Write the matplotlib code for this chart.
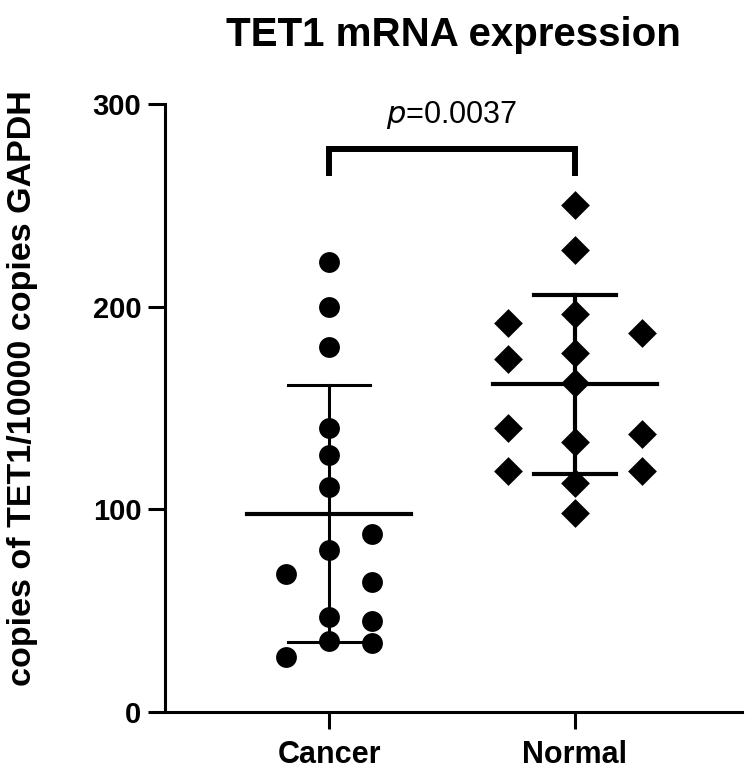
import matplotlib
matplotlib.use("Agg")
import matplotlib.pyplot as plt
import numpy as np

plt.rcParams["font.family"] = ["Liberation Sans", "DejaVu Sans"]

groups = ["Cancer", "Normal"]
cancer = [222, 200, 180, 140, 127, 111, 88, 80, 68, 64, 47, 45, 35, 34, 27]
cancer_col = [0, 0, 0, 0, 0, 0, 1, 0, -1, 1, 0, 1, 0, 1, -1]
normal = [250, 228, 196.5, 177, 162.5, 133, 113, 98, 192, 174, 140, 119, 187, 137, 119]
normal_col = [0, 0, 0, 0, 0, 0, 0, 0, -1, -1, -1, -1, 1, 1, 1]
p_text = "$\\it{p}$=0.0037"
yticks = [0, 100, 200, 300]

fig = plt.figure(figsize=(7.5, 7.72), dpi=100)
ax = fig.add_axes([165 / 750, 60 / 772, 577 / 750, 608 / 772])

specs = [(cancer, cancer_col, "o", 225, 0.173, 2.2), (normal, normal_col, "D", 215, 0.273, 3.0)]
for i, (vals, cols, mk, size, step, lw) in enumerate(specs):
    vals = np.asarray(vals, dtype=float)
    x = i + step * np.asarray(cols)
    ax.scatter(x, vals, marker=mk, s=size, color="black", linewidths=0, zorder=3)
    m = vals.mean()
    sd = vals.std(ddof=1)
    ax.plot([i - 0.333, i + 0.333], [m, m], color="black", lw=3.0, zorder=4)
    ax.plot([i, i], [m - sd, m + sd], color="black", lw=lw, zorder=2)
    for yy in (m - sd, m + sd):
        ax.plot([i - 0.167, i + 0.167], [yy, yy], color="black", lw=lw, zorder=2)

# significance bracket
ax.plot([0, 0, 1, 1], [266, 278, 278, 266], color="black", lw=4.3,
        solid_joinstyle="miter", clip_on=False)
ax.text(0.5, 290.5, p_text, ha="center", va="baseline", fontsize=22)

ax.set_xlim(-0.667, 1.679)
ax.set_ylim(0, 300)
ax.set_xticks([0, 1])
ax.set_xticklabels(groups, fontsize=22, fontweight="bold")
ax.set_yticks(yticks)
ax.set_yticklabels([str(t) for t in yticks], fontsize=21, fontweight="bold")
ax.tick_params(axis="both", length=12, width=2.2, direction="out")
ax.tick_params(axis="x", pad=8)
ax.tick_params(axis="y", pad=5)
for side in ("top", "right"):
    ax.spines[side].set_visible(False)
for side in ("left", "bottom"):
    ax.spines[side].set_linewidth(2.2)

ax.set_ylabel("copies of TET1/10000 copies GAPDH", fontsize=24.5, fontweight="bold")
ax.yaxis.set_label_coords(-0.22, 0.533)
fig.text(453 / 750, 1 - 35 / 772, "TET1 mRNA expression", ha="center", va="center",
         fontsize=29, fontweight="bold")

fig.savefig("out.png", dpi=100)
